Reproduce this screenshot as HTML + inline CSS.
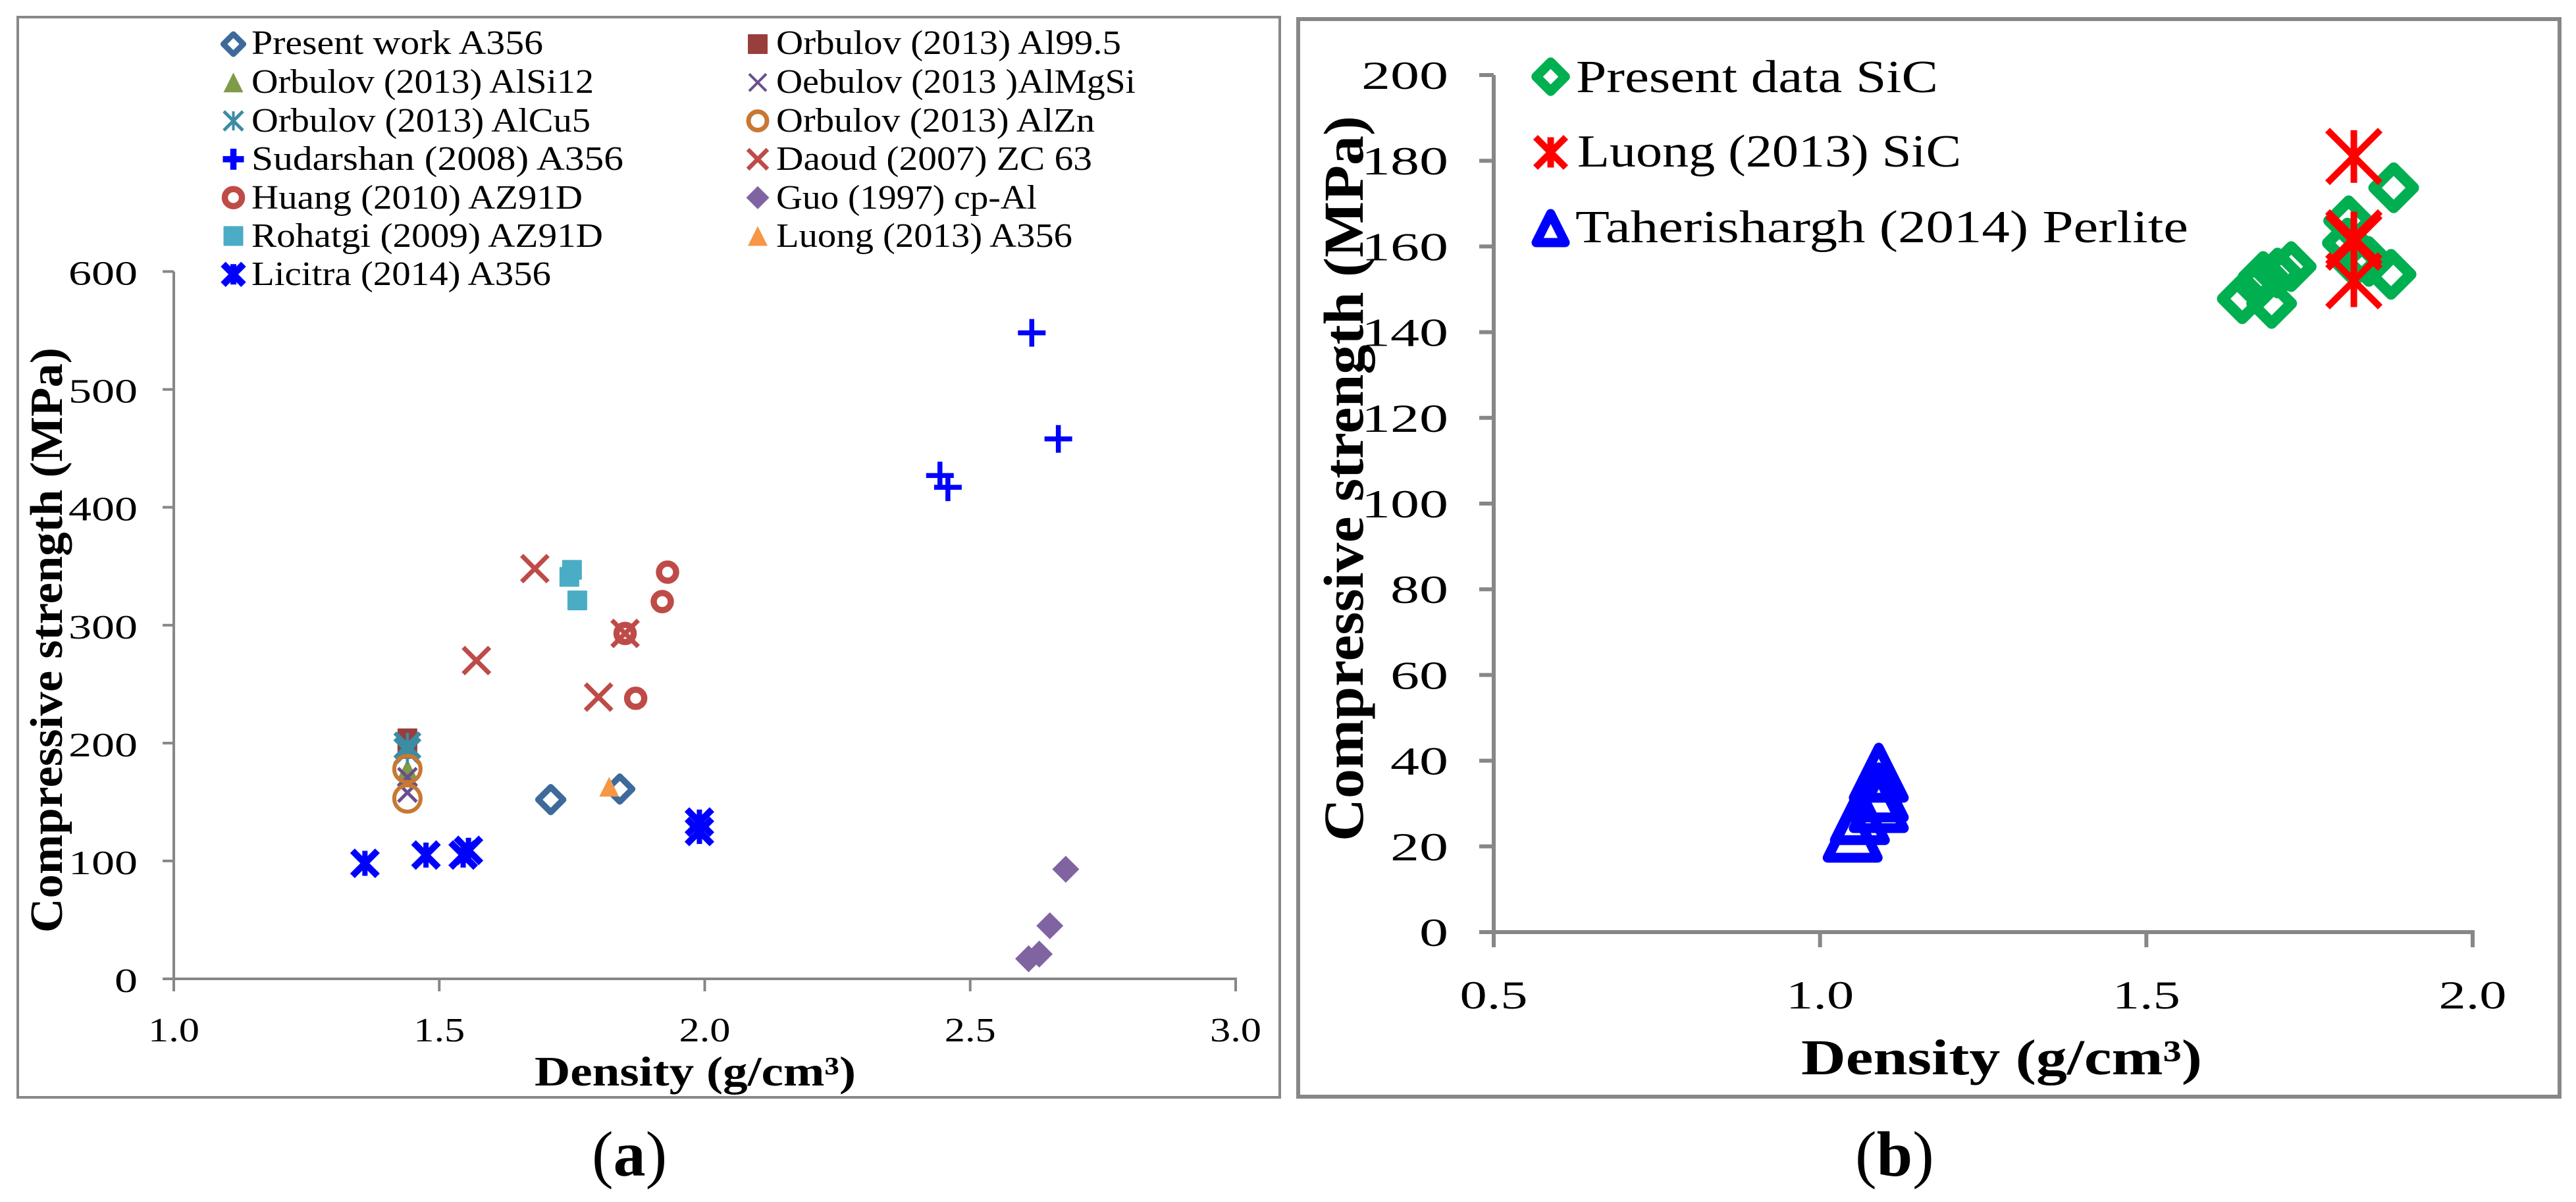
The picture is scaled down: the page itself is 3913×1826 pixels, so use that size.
<!DOCTYPE html>
<html lang="en">
<head>
<meta charset="utf-8">
<title>Compressive strength vs density</title>
<style>
html,body{margin:0;padding:0;background:#fff;}
svg{display:block;}
text{font-family:"Liberation Serif",serif;fill:#000;}
</style>
</head>
<body>
<svg id="figure" xmlns="http://www.w3.org/2000/svg" width="3913" height="1826" viewBox="0 0 3913 1826">
  <rect x="0" y="0" width="3913" height="1826" fill="#fff"/>
  <rect x="27" y="26" width="1917" height="1641" fill="#fff" stroke="#888" stroke-width="4"/>
  <rect x="1972" y="29" width="1916" height="1637" fill="#fff" stroke="#878787" stroke-width="6"/>
  <g id="panelA"></g>
  <g id="panelB"></g>

  <g font-size="52">
    <text x="382" y="82" textLength="443" lengthAdjust="spacingAndGlyphs">Present work A356</text>
    <text x="382" y="141" textLength="520" lengthAdjust="spacingAndGlyphs">Orbulov (2013) AlSi12</text>
    <text x="382" y="200" textLength="515" lengthAdjust="spacingAndGlyphs">Orbulov (2013) AlCu5</text>
    <text x="382" y="258" textLength="565" lengthAdjust="spacingAndGlyphs">Sudarshan (2008) A356</text>
    <text x="382" y="317" textLength="503" lengthAdjust="spacingAndGlyphs">Huang (2010) AZ91D</text>
    <text x="382" y="375" textLength="534" lengthAdjust="spacingAndGlyphs">Rohatgi (2009) AZ91D</text>
    <text x="382" y="433" textLength="455" lengthAdjust="spacingAndGlyphs">Licitra (2014) A356</text>
    <text x="1179" y="82" textLength="524" lengthAdjust="spacingAndGlyphs">Orbulov (2013) Al99.5</text>
    <text x="1179" y="141" textLength="546" lengthAdjust="spacingAndGlyphs">Oebulov (2013 )AlMgSi</text>
    <text x="1179" y="200" textLength="484" lengthAdjust="spacingAndGlyphs">Orbulov (2013) AlZn</text>
    <text x="1179" y="258" textLength="480" lengthAdjust="spacingAndGlyphs">Daoud (2007) ZC 63</text>
    <text x="1179" y="317" textLength="396" lengthAdjust="spacingAndGlyphs">Guo (1997) cp-Al</text>
    <text x="1179" y="375" textLength="450" lengthAdjust="spacingAndGlyphs">Luong (2013) A356</text>
  </g>
  <g font-size="70">
    <text x="2394" y="140" textLength="550" lengthAdjust="spacingAndGlyphs">Present data SiC</text>
    <text x="2396" y="253" textLength="583" lengthAdjust="spacingAndGlyphs">Luong (2013) SiC</text>
    <text x="2393" y="368" textLength="931" lengthAdjust="spacingAndGlyphs">Taherishargh (2014) Perlite</text>
  </g>

  <text transform="rotate(-90 94 1417)" x="94" y="1417" font-size="70" font-weight="bold" textLength="889" lengthAdjust="spacingAndGlyphs">Compressive strength (MPa)</text>
  <text x="812" y="1649" font-size="64" font-weight="bold" textLength="488" lengthAdjust="spacingAndGlyphs">Density (g/cm³)</text>
  <text transform="rotate(-90 2070 1278)" x="2070" y="1278" font-size="86" font-weight="bold" textLength="1102" lengthAdjust="spacingAndGlyphs">Compressive strength (MPa)</text>
  <text x="2736" y="1632" font-size="76" font-weight="bold" textLength="609" lengthAdjust="spacingAndGlyphs">Density (g/cm³)</text>

  <text x="899" y="1786" font-size="98">(<tspan font-weight="bold">a</tspan>)</text>
  <text x="2818" y="1786" font-size="98">(<tspan font-weight="bold">b</tspan>)</text>
</svg>

<script>
// Panel (a) axis data
const xTicksA = ["1.0", "1.5", "2.0", "2.5", "3.0"];
const yTicksA = ["0", "100", "200", "300", "400", "500", "600"];
// Panel (a) series
const presentDensity = [1.71, 1.84];
const presentStrength = [152, 161];
const al995Density = [1.44, 1.44];
const al995Strength = [204, 195];
const alsi12Density = [1.44, 1.44];
const alsi12Strength = [178, 172];
const almgsiDensity = [1.44, 1.44];
const almgsiStrength = [171, 158];
const alcu5Density = [1.44, 1.44];
const alcu5Strength = [198, 193];
const alznDensity = [1.44, 1.44];
const alznStrength = [178, 153];
const sudarshanDensity = [2.616, 2.666, 2.443, 2.458];
const sudarshanStrength = [548, 458, 427, 417];
const daoudDensity = [1.68, 1.57, 1.80, 1.85];
const daoudStrength = [348, 270, 239, 293];
const huangDensity = [1.93, 1.92, 1.85, 1.87];
const huangStrength = [345, 320, 293, 238];
const guoDensity = [2.68, 2.65, 2.63, 2.61];
const guoStrength = [93, 45, 21, 17];
const rohatgiDensity = [1.75, 1.745, 1.76];
const rohatgiStrength = [347, 341, 321];
const luongA356Density = [1.82];
const luongA356Strength = [163];
const licitraDensity = [1.36, 1.475, 1.545, 1.555, 1.99, 1.99];
const licitraStrength = [98, 105, 105, 109, 133, 125];
// Panel (b) axis data
const xTicksB = ["0.5", "1.0", "1.5", "2.0"];
const yTicksB = ["0", "20", "40", "60", "80", "100", "120", "140", "160", "180", "200"];
// Panel (b) series
const presentSicDensity = [1.879, 1.810, 1.808, 1.841, 1.875, 1.819, 1.722, 1.701, 1.679, 1.671, 1.647, 1.692];
const presentSicStrength = [173.7, 166, 160.8, 156.5, 153.5, 156.5, 155.3, 153.8, 153, 151, 147.8, 146.7];
const luongSicDensity = [1.818, 1.818, 1.818, 1.818];
const luongSicStrength = [181, 162, 161, 152];
const perliteDensity = [1.050, 1.061, 1.090, 1.090, 1.090];
const perliteStrength = [23.2, 27.3, 30.1, 32.6, 37.2];

const NS = "http://www.w3.org/2000/svg";

function mk(parent, tag, attrs) {
  const el = document.createElementNS(NS, tag);
  for (const k in attrs) el.setAttribute(k, attrs[k]);
  parent.appendChild(el);
  return el;
}

// Axis functions
function scale(d0, d1, p0, p1) {
  return function (v) { return p0 + (v - d0) * (p1 - p0) / (d1 - d0); };
}
const xA = scale(1, 3, 264, 1877);
const yA = scale(0, 600, 1487, 412.5);
const xB = scale(0.5, 2, 2269, 3756);
const yB = scale(0, 200, 1416, 114);

function drawMarker(parent, st, cx, cy, name) {
  const g = mk(parent, "g", {});
  
  
  const c = st.color;
  const sw = st.sw || 0;
  const h = st.half;
  const line = function (x1, y1, x2, y2, w) {
    mk(g, "line", { x1: cx + x1, y1: cy + y1, x2: cx + x2, y2: cy + y2, stroke: c, "stroke-width": w });
  };
  if (st.shape === "diamond" || st.shape === "diamondFill") {
    mk(g, "polygon", {
      points: [cx, cy - h, cx + h, cy, cx, cy + h, cx - h, cy].join(","),
      fill: st.shape === "diamond" ? "none" : c,
      stroke: st.shape === "diamond" ? c : "none",
      "stroke-width": sw,
      "stroke-linejoin": "round"
    });
  } else if (st.shape === "square") {
    mk(g, "rect", { x: cx - h, y: cy - h, width: 2 * h, height: 2 * h, fill: c, rx: 1 });
  } else if (st.shape === "triangle") {
    mk(g, "polygon", { points: [cx, cy - h, cx + h, cy + h, cx - h, cy + h].join(","), fill: c });
  } else if (st.shape === "triangleOpen") {
    mk(g, "polygon", {
      points: [cx, cy - h, cx + h, cy + h, cx - h, cy + h].join(","),
      fill: "none", stroke: c, "stroke-width": sw, "stroke-linejoin": "round"
    });
  } else if (st.shape === "circle") {
    mk(g, "circle", { cx: cx, cy: cy, r: h, fill: "none", stroke: c, "stroke-width": sw });
  } else if (st.shape === "plus") {
    line(-h, 0, h, 0, sw);
    line(0, -h, 0, h, sw);
  } else if (st.shape === "x") {
    line(-h, -h, h, h, sw);
    line(-h, h, h, -h, sw);
  } else if (st.shape === "star") {
    line(-h, -h, h, h, sw);
    line(-h, h, h, -h, sw);
    line(0, -h, 0, h, st.vsw || sw);
  }
}

function drawAxes(root, prefix, o) {
  const yAxis = mk(root, "line", { x1: o.x0, y1: o.yTop, x2: o.x0, y2: o.y0 + o.tickX, stroke: "#878787", "stroke-width": o.axisW });
  
  
  const xAxis = mk(root, "line", { x1: o.x0 - o.tickY, y1: o.y0, x2: o.xRight, y2: o.y0, stroke: "#878787", "stroke-width": o.axisW });
  
  
  o.yLabels.forEach(function (lab) {
    const py = o.yf(parseFloat(lab));
    const t = mk(root, "line", { x1: o.x0 - o.tickY, y1: py, x2: o.x0, y2: py, stroke: "#878787", "stroke-width": o.axisW });
    
    
    const len = lab.length * o.digitW;
    const tx = mk(root, "text", {
      x: o.yLabelRight - len, y: py + o.yLabelDy, "font-size": o.fontSize,
      textLength: len, lengthAdjust: "spacingAndGlyphs"
    });
    
    
    tx.textContent = lab;
  });
  o.xLabels.forEach(function (lab) {
    const px = o.xf(parseFloat(lab));
    const t = mk(root, "line", { x1: px, y1: o.y0, x2: px, y2: o.y0 + o.tickX, stroke: "#878787", "stroke-width": o.axisW });
    
    
    const tx = mk(root, "text", {
      x: px - o.xLabelW / 2, y: o.xLabelBase, "font-size": o.fontSize,
      textLength: o.xLabelW, lengthAdjust: "spacingAndGlyphs"
    });
    
    
    tx.textContent = lab;
  });
}

function drawSeries(root, s, xf, yf) {
  const g = mk(root, "g", {});
  
  
  s.xs.forEach(function (v, i) {
    drawMarker(g, s.style, xf(v), yf(s.ys[i]), 'point-' + s.name);
  });
}

const panelA = document.getElementById("panelA");
const panelB = document.getElementById("panelB");

drawAxes(panelA, "panel-a", {
  x0: 264, y0: 1487, yTop: 412.5, xRight: 1879, tickY: 17, tickX: 19, axisW: 4,
  xf: xA, yf: yA, xLabels: xTicksA, yLabels: yTicksA,
  digitW: 35, yLabelRight: 209, yLabelDy: 20, fontSize: 52, xLabelW: 78, xLabelBase: 1582
});
drawAxes(panelB, "panel-b", {
  x0: 2269, y0: 1416, yTop: 114, xRight: 3759, tickY: 22, tickX: 23, axisW: 6,
  xf: xB, yf: yB, xLabels: xTicksB, yLabels: yTicksB,
  digitW: 44, yLabelRight: 2200, yLabelDy: 21, fontSize: 60, xLabelW: 103, xLabelBase: 1532
});

const seriesA = [
  { name: "present-work", xs: presentDensity, ys: presentStrength, col: 0, row: 0, style: { shape: "diamond", color: "#3D6A9B", half: 19, sw: 9.5 }, icon: { half: 15.2, sw: 8.7 } },
  { name: "al995", xs: al995Density, ys: al995Strength, col: 1, row: 0, style: { shape: "square", color: "#983F3D", half: 15 }, icon: {} },
  { name: "alsi12", xs: alsi12Density, ys: alsi12Strength, col: 0, row: 1, style: { shape: "triangle", color: "#7F9A48", half: 15 }, icon: {} },
  { name: "almgsi", xs: almgsiDensity, ys: almgsiStrength, col: 1, row: 1, style: { shape: "x", color: "#6A4F8C", half: 14, sw: 5 }, icon: { half: 13, sw: 4 } },
  { name: "alcu5", xs: alcu5Density, ys: alcu5Strength, col: 0, row: 2, style: { shape: "star", color: "#3B8CA5", half: 19, sw: 6.5, vsw: 4.5 }, icon: { half: 14.5, sw: 5, vsw: 4 } },
  { name: "alzn", xs: alznDensity, ys: alznStrength, col: 1, row: 2, style: { shape: "circle", color: "#C87833", half: 20, sw: 6 }, icon: { half: 14, sw: 7 } },
  { name: "sudarshan", xs: sudarshanDensity, ys: sudarshanStrength, col: 0, row: 3, style: { shape: "plus", color: "#0000FF", half: 21, sw: 7.5 }, icon: { half: 16, sw: 9.5 } },
  { name: "daoud", xs: daoudDensity, ys: daoudStrength, col: 1, row: 3, style: { shape: "x", color: "#BE4B48", half: 20, sw: 7 }, icon: { half: 15, sw: 6.5 } },
  { name: "huang", xs: huangDensity, ys: huangStrength, col: 0, row: 4, style: { shape: "circle", color: "#BE4B48", half: 13, sw: 9.5 }, icon: {} },
  { name: "guo", xs: guoDensity, ys: guoStrength, col: 1, row: 4, style: { shape: "diamondFill", color: "#8064A2", half: 20.5 }, icon: { half: 17.5 } },
  { name: "rohatgi", xs: rohatgiDensity, ys: rohatgiStrength, col: 0, row: 5, style: { shape: "square", color: "#4BACC6", half: 15 }, icon: {} },
  { name: "luong-a356", xs: luongA356Density, ys: luongA356Strength, col: 1, row: 5, style: { shape: "triangle", color: "#F79646", half: 15 }, icon: {} },
  { name: "licitra", xs: licitraDensity, ys: licitraStrength, col: 0, row: 6, style: { shape: "star", color: "#0000FF", half: 19, sw: 10, vsw: 8 }, icon: { half: 15.5, sw: 10.5, vsw: 9 } }
];
const seriesB = [
  { name: "present-data-sic", xs: presentSicDensity, ys: presentSicStrength, row: 0, style: { shape: "diamond", color: "#00AF50", half: 30, sw: 17 }, icon: { half: 22, sw: 14.5 } },
  { name: "luong-sic", xs: luongSicDensity, ys: luongSicStrength, row: 1, style: { shape: "star", color: "#FF0000", half: 40, sw: 10, vsw: 10 }, icon: { half: 23, sw: 10, vsw: 10 } },
  { name: "taherishargh-perlite", xs: perliteDensity, ys: perliteStrength, row: 2, style: { shape: "triangleOpen", color: "#0000FF", half: 38, sw: 15 }, icon: { half: 22, sw: 14 } }
];

seriesA.forEach(function (s) {
  drawSeries(panelA, s, xA, yA);
  const lx = s.col === 0 ? 354.5 : 1151;
  const ly = 67 + s.row * 58.3;
  drawMarker(panelA, Object.assign({}, s.style, s.icon), lx, ly, 'legend-icon-' + s.name);
});
seriesB.forEach(function (s) {
  drawSeries(panelB, s, xB, yB);
  const ly = 116.5 + s.row * 115;
  drawMarker(panelB, Object.assign({}, s.style, s.icon), 2355.5, ly, 'legend-icon-' + s.name);
});
</script>
</body>
</html>
